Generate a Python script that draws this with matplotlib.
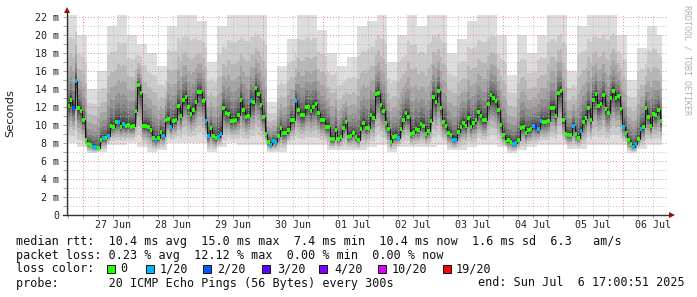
import numpy as np
import matplotlib
matplotlib.use("Agg")
import matplotlib.pyplot as plt
from matplotlib.patches import Rectangle

# ---------------- data ----------------
# hourly median RTT in ms, starting Jun 26 ~17:36
median_ms = [
    12.1, 12.8, 11.9, 14.9, 11.9, 11.6, 10.5, 8.3, 7.9, 7.8,
    7.6, 7.5, 7.4, 8.3, 8.6, 8.5, 8.8, 9.9, 9.8, 10.3,
    10.3, 9.8, 10.1, 9.9, 10.0, 9.8, 9.9, 11.6, 14.4, 13.6,
    9.9, 9.9, 9.8, 9.4, 8.6, 8.3, 8.5, 9.2, 8.8, 10.5,
    10.7, 9.8, 10.4, 10.5, 12.1, 11.0, 12.8, 13.1, 12.0, 11.2,
    11.7, 12.5, 13.7, 13.7, 12.7, 10.4, 8.8, 9.7, 8.8, 8.5,
    8.7, 9.0, 11.9, 11.3, 11.2, 10.4, 10.4, 10.6, 11.1,
    12.8, 11.7, 10.9, 11.0, 12.7, 12.5, 14.1, 13.4, 12.2, 10.9,
    9.0, 8.1, 7.8, 8.2, 8.1, 8.8, 9.7, 9.1, 9.1, 9.4,
    10.5, 10.5, 12.7, 11.7, 11.1, 11.1, 12.0, 12.0, 11.5, 12.0,
    12.3, 11.3, 10.5, 10.5, 9.8, 9.8, 8.4, 8.4, 9.4, 8.4,
    8.7, 9.7, 10.3, 8.7, 8.8, 9.1, 8.7, 8.3, 9.6, 10.2,
    9.7, 9.7, 11.1, 10.8, 13.4, 13.6, 12.2, 11.6, 10.2, 9.6,
    8.1, 8.7, 8.8, 8.6, 9.5, 10.6, 11.3, 10.9, 9.0, 9.1,
    9.5, 9.4, 10.1, 9.9, 9.0, 9.3, 10.4, 13.1, 12.5, 13.8,
    11.9, 10.3, 9.9, 9.1, 8.9, 8.3, 8.3, 9.2, 9.8, 10.2,
    9.9, 10.8,
    9.8, 10.2, 10.5, 11.4, 11.0, 10.5, 10.5, 12.3, 13.3, 13.0,
    12.7, 11.7, 10.0, 8.9, 8.1, 8.3, 8.1, 7.9, 8.0, 8.3,
    9.7, 9.8, 9.1, 9.4, 9.5, 9.9, 9.8, 9.5, 10.4, 10.3,
    10.3, 10.4, 11.9, 11.9, 11.0, 13.6, 13.8, 10.5, 9.0, 8.9,
    8.9, 9.9, 9.0, 8.6, 9.3, 10.3, 10.8, 11.9, 10.5, 12.8,
    13.4, 12.1, 12.3, 13.3, 11.8, 11.3, 13.0, 13.8, 13.0, 13.2,
    11.8, 9.8, 9.1, 8.3, 7.9, 7.6, 7.9, 8.4, 9.6, 9.8,
    11.9, 10.9, 9.9, 11.2, 11.1, 11.7, 10.4,
]

# hours (index into median_ms) with packet loss, and lost pings out of 20
loss_index = [2, 3, 10, 11, 14, 16, 20, 22, 35, 38, 41, 55, 56, 60, 61,
              73, 81, 82, 83, 91, 132, 154, 155, 178, 179, 186, 187, 188,
              189, 202, 205, 222, 226, 227, 229]
loss_count = [2, 1, 1, 1, 1, 1, 1, 1, 1, 1, 1, 1, 1, 1, 1,
              1, 1, 1, 1, 1, 1, 1, 1, 1, 1, 1, 3, 1,
              1, 1, 1, 1, 1, 1, 1]

# smoke extent per 4-hour block (ms): highest and lowest ping
smoke_top_ms = [22.3, 20, 14, 16, 21, 22.3, 20, 19, 18, 16.5,
                21, 22.3, 22.3, 21.5, 17, 21, 22.3, 22.3, 22.3, 22.3,
                12.5, 16.5, 19.5, 22.3, 22.3, 20.5, 18, 16.5, 17.5, 21,
                21.5, 22.3, 17, 20, 22.3, 21, 22.3, 22.3, 18, 19.5,
                21.5, 22.3, 22.3, 20, 15.5, 20, 18, 20, 22.3, 22.3,
                16, 21, 22.3, 22.3, 22.3, 20, 15, 18.5, 21, 20]
smoke_bottom_ms = [8.0, 7.5, 6.9, 7.0, 7.8, 7.8, 8.0, 7.5, 7.0, 7.2,
                   8.0, 8.0, 8.0, 8.0, 7.0, 7.5, 8.0, 7.8, 7.8, 7.8,
                   7.0, 7.0, 7.8, 7.8, 7.8, 7.8, 7.2, 7.2, 7.2, 7.2,
                   7.5, 7.8, 7.0, 7.5, 7.5, 7.5, 7.5, 7.8, 7.2, 7.2,
                   7.5, 7.8, 7.8, 7.5, 6.9, 7.2, 7.5, 7.8, 7.8, 7.8,
                   7.3, 7.3, 7.8, 7.8, 7.8, 7.8, 6.9, 7.3, 7.8, 7.8]

loss_levels = [0, 1, 2, 3, 4, 10, 19]
loss_labels = ["0", "1/20", "2/20", "3/20", "4/20", "10/20", "19/20"]
loss_colors = ["#26ff00", "#00b8ff", "#0059ff", "#5e00ff", "#7e00ff", "#dd00ff", "#ff0000"]

day_labels = ["27 Jun", "28 Jun", "29 Jun", "30 Jun", "01 Jul",
              "02 Jul", "03 Jul", "04 Jul", "05 Jul", "06 Jul"]
y_labels = ["0", "2 m", "4 m", "6 m", "8 m", "10 m", "12 m", "14 m",
            "16 m", "18 m", "20 m", "22 m"]

legend_lines = [
    "median rtt:  10.4 ms avg  15.0 ms max  7.4 ms min  10.4 ms now  1.6 ms sd  6.3   am/s",
    "packet loss: 0.23 % avg  12.12 % max  0.00 % min  0.00 % now",
    "loss color:",
    "probe:       20 ICMP Echo Pings (56 Bytes) every 300s",
]
end_text = "end: Sun Jul  6 17:00:51 2025"

# ---------------- figure ----------------
W, H = 697, 297
fig = plt.figure(figsize=(W / 100, H / 100), dpi=100)
fig.patch.set_facecolor("white")
ax = fig.add_axes([67 / W, (H - 215) / H, 601 / W, 200 / H])
ax.set_facecolor("white")

start_hour = 17.6   # hours after Jun 26 00:00
m = np.array(median_ms)
n = len(m)
edges = start_hour + np.arange(n + 1)
hi = np.repeat(np.array(smoke_top_ms), 4)[:n]
lo = np.repeat(np.array(smoke_bottom_ms), 4)[:n]
hi = np.maximum(hi, m + 0.6)
lo = np.minimum(lo, m - 0.3)

# smoke: 10 nested ping-pair bands, outer light -> inner dark
up_frac = [1.0, 0.74, 0.54, 0.39, 0.27, 0.18, 0.12, 0.075, 0.045, 0.02]
dn_frac = [1.0, 0.8, 0.64, 0.5, 0.39, 0.3, 0.22, 0.15, 0.09, 0.04]
grays = [221, 202, 183, 164, 145, 126, 107, 88, 69, 50]
for uf, df, g in zip(up_frac, dn_frac, grays):
    top = m + (hi - m) * uf
    bot = m - (m - lo) * df
    ax.stairs(top, edges, baseline=bot, fill=True,
              color="#%02x%02x%02x" % (g, g, g), lw=0, zorder=1)

# grid
x0, x1 = start_hour, 258.0
ax.set_xlim(x0, x1)
ax.set_ylim(0, 22.22)
dots = (0, (1, 2))
for yv in range(1, 23):
    if yv % 2 == 0:
        ax.axhline(yv, color="#e08080", lw=0.7, ls=dots, alpha=0.9, zorder=2)
    else:
        ax.axhline(yv, color="#b8b8b8", lw=0.7, ls=dots, alpha=0.9, zorder=2)
for hv in np.arange(18, 258, 6):
    if hv % 24 == 0:
        ax.axvline(hv, color="#e08080", lw=0.7, ls=dots, alpha=0.9, zorder=2)
    else:
        ax.axvline(hv, color="#b8b8b8", lw=0.7, ls=dots, alpha=0.9, zorder=2)

# median: black step line + loss-coloured segments
ax.stairs(m, edges, baseline=None, color="#151515", lw=0.7, zorder=4)
loss_full = np.zeros(n, dtype=int)
for i, c in zip(loss_index, loss_count):
    loss_full[i] = c
cmap = dict(zip(loss_levels, loss_colors))
seg_cols = [cmap[v] for v in loss_full]
ax.hlines(m, edges[:-1], edges[1:], colors=seg_cols, lw=2.8, zorder=5)

# axes styling
for s in ax.spines.values():
    s.set_visible(False)
ax.plot([0, 0], [0, (215 - 11) / 200], color="#333333", lw=1.0,
        transform=ax.transAxes, clip_on=False, zorder=6)
ax.plot([-4 / 601, 1 + 2 / 601], [0, 0], color="#333333", lw=1.0,
        transform=ax.transAxes, clip_on=False, zorder=6)
ax.plot([0], [(215 - 10) / 200], marker="^", color="#8b1414", ms=4.5,
        mew=0, transform=ax.transAxes, clip_on=False, zorder=7)
ax.plot([1 + 4 / 601], [0], marker=">", color="#8b1414", ms=4.5,
        mew=0, transform=ax.transAxes, clip_on=False, zorder=7)

mono = "DejaVu Sans Mono"
ax.set_yticks(np.arange(0, 23, 2))
ax.set_yticklabels(y_labels, fontsize=7.2, family=mono, color="#222222")
ax.set_yticks(np.arange(1, 23, 2), minor=True)
ax.tick_params(axis="y", which="both", length=3, width=0.6, color="#999999",
               pad=2.5)
ax.set_xticks(36 + 24 * np.arange(len(day_labels)))
ax.set_xticklabels(day_labels, fontsize=7.2, family=mono, color="#222222")
ax.xaxis.remove_overlapping_locs = False
ax.set_xticks(np.arange(18, 258, 6), minor=True)
ax.tick_params(axis="x", which="major", length=0, pad=3.5)
ax.tick_params(axis="x", which="minor", length=2, width=0.6, color="#bb8888")

# labels
fig.text(10 / W, 1 - 113 / H, "Seconds", rotation=90, ha="center",
         va="center", fontsize=8.2, family="DejaVu Sans", color="#222222")
fig.text(687 / W, 1 - 5 / H, "RRDTOOL / TOBI OETIKER", rotation=270,
         ha="center", va="top", fontsize=6, family=mono, color="#b0b0b0")

baselines = [244.5, 258.5, 272.5, 286.5]
for txt, yb in zip(legend_lines, baselines):
    fig.text(16 / W, 1 - yb / H, txt, ha="left", va="baseline",
             fontsize=8.5, family=mono, color="#111111")
fig.text(478 / W, 1 - baselines[3] / H, end_text, ha="left", va="baseline",
         fontsize=8.5, family=mono, color="#111111")

box_x = [107, 146, 203, 262, 319, 378, 443]
lab_x = [120, 160, 217, 277, 334, 392, 456]
for bx, lx, col, lab in zip(box_x, lab_x, loss_colors, loss_labels):
    fig.patches.append(Rectangle((bx / W, 1 - 272.5 / H), 8 / W, 8 / H,
                                 transform=fig.transFigure, facecolor=col,
                                 edgecolor="#111111", lw=0.7))
    fig.text(lx / W, 1 - baselines[2] / H, lab, ha="left", va="baseline",
             fontsize=8.5, family=mono, color="#111111")

fig.savefig("out.png", dpi=100, facecolor="white")
